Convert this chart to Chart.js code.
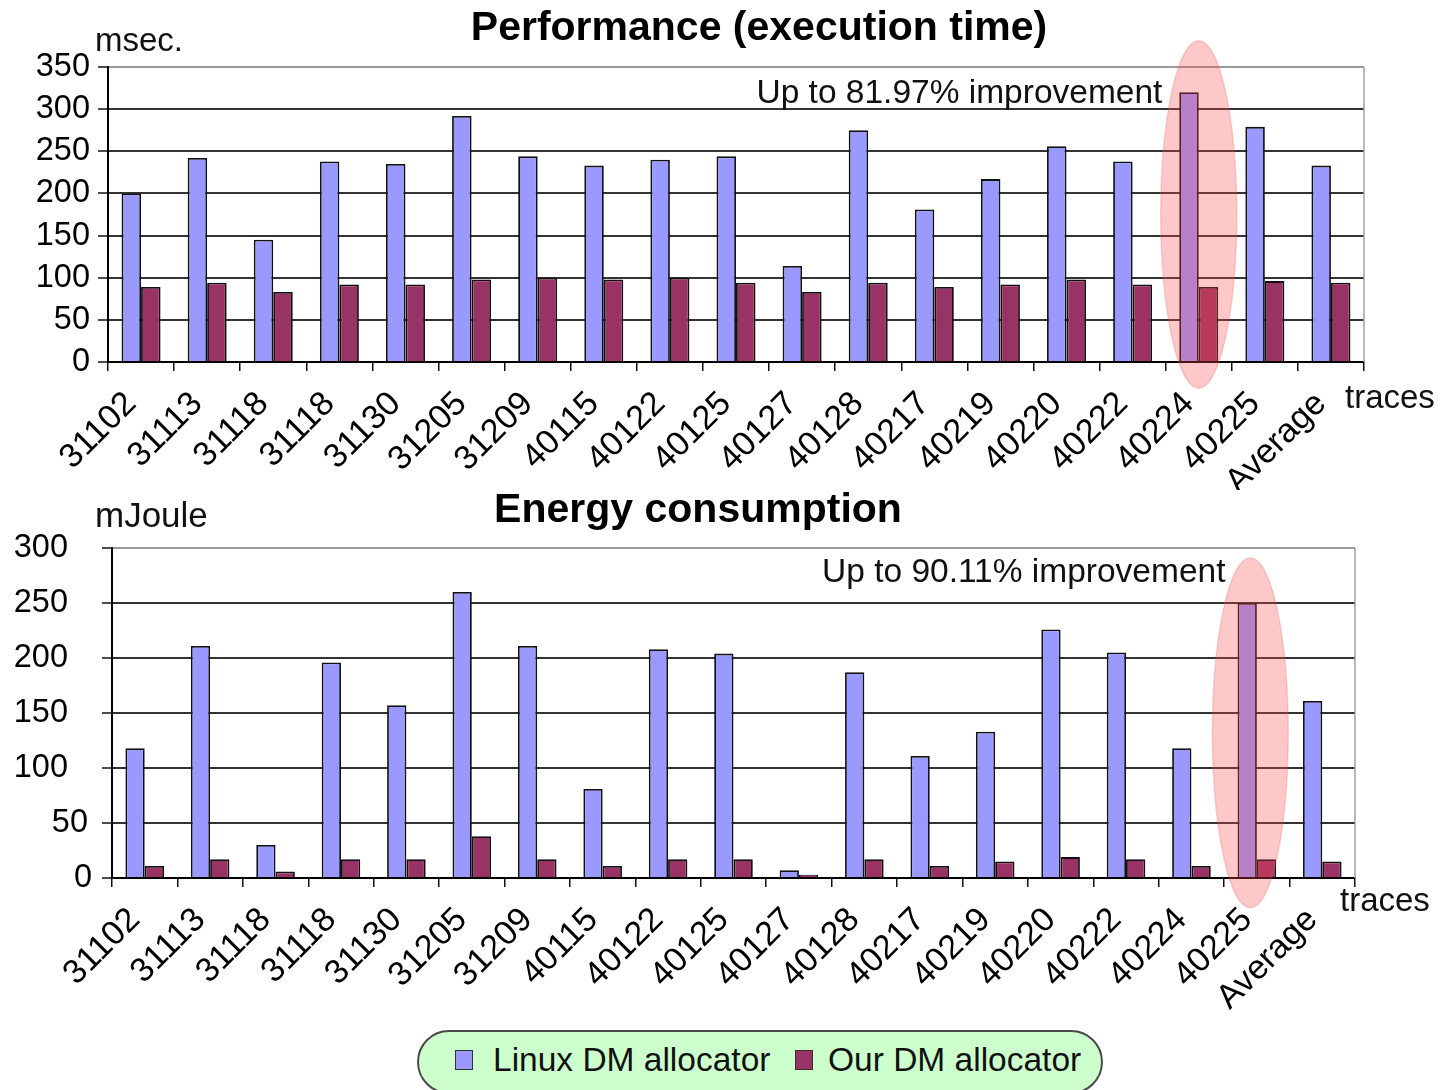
<!DOCTYPE html>
<html>
<head>
<meta charset="utf-8">
<script src="https://cdn.jsdelivr.net/npm/chart.js@4.4.1/dist/chart.umd.min.js"></script>
<style>
  html, body { margin: 0; padding: 0; background: #ffffff; }
  #wrap { position: relative; width: 1441px; height: 1090px; overflow: hidden; background: #ffffff; }
  #c1 { position: absolute; left: 0; top: 0; }
  #c2 { position: absolute; left: 0; top: 490px; }
  #legend { position: absolute; left: 417px; top: 1030px; width: 686px; height: 64px; box-sizing: border-box;
    border: 2px solid #4a4a4a; border-radius: 34px; background: #ccffcc;
    font-family: 'Liberation Sans', Arial, sans-serif; font-size: 33.5px; color: #111; }
  .mk { position: absolute; width: 16px; height: 18px; border: 1px solid #333; top: 18px; }
  .lt { position: absolute; top: 8px; line-height: 40px; white-space: nowrap; }
</style>
</head>
<body>
<div id="wrap">
  <canvas id="c1" width="1441" height="490"></canvas>
  <canvas id="c2" width="1441" height="530"></canvas>
  <div id="legend">
    <div class="mk" style="left:36px; background:#9999ff;"></div>
    <div class="lt" style="left:74px;">Linux DM allocator</div>
    <div class="mk" style="left:376px; background:#993366;"></div>
    <div class="lt" style="left:409px;">Our DM allocator</div>
  </div>
</div>
<script>
const traces = ['31102','31113','31118','31118','31130','31205','31209','40115','40122','40125','40127','40128','40217','40219','40220','40222','40224','40225','Average'];
const timeLinux = [200,242,145,238,235,292,244,233,240,244,114,275,181,217,256,238,320,279,233];
const timeOurs  = [89,94,83,92,92,98,100,98,100,94,83,94,89,92,98,92,89,96,94];
const energyLinux = [118,211,30,196,157,260,211,81,208,204,7,187,111,133,226,205,118,250,161];
const energyOurs  = [11,17,6,17,17,38,17,11,17,17,3,17,11,15,19,17,11,17,15];
const timeTicks = [0,50,100,150,200,250,300,350];
const energyTicks = [0,50,100,150,200,250,300];
const seriesNames = ['Linux DM allocator','Our DM allocator'];

const FONT = "'Liberation Sans', Arial, sans-serif";
const BLUE = '#9999ff';
const RED = '#993366';

function extrasPlugin(cfg) {
  return {
    id: 'extras',
    afterDraw(chart) {
      const ctx = chart.ctx;
      const xs = chart.scales.x, ys = chart.scales.y;
      const a = chart.chartArea;
      ctx.save();
      // right border of plot area
      ctx.strokeStyle = '#a0a0a0';
      ctx.lineWidth = 1.5;
      ctx.beginPath();
      ctx.moveTo(a.right, a.top);
      ctx.lineTo(a.right, a.bottom);
      ctx.stroke();
      // custom y tick labels (bottom chart)
      if (cfg.yLabelRight) {
        ctx.fillStyle = '#000';
        ctx.font = '32.5px ' + FONT;
        ctx.textAlign = 'right';
        ctx.textBaseline = 'middle';
        ys.ticks.forEach(t => {
          ctx.fillText(String(t.value), cfg.yLabelRight(t.value), ys.getPixelForValue(t.value));
        });
      }
      // highlight ellipse
      const cx = xs.getPixelForValue(cfg.ell.cat);
      const cy = ys.getPixelForValue(cfg.ell.val);
      const rx = Math.abs(xs.getPixelForValue(cfg.ell.cat + cfg.ell.halfCat) - cx);
      const ry = Math.abs(ys.getPixelForValue(cfg.ell.val + cfg.ell.halfVal) - cy);
      ctx.fillStyle = 'rgba(255,72,72,0.3)';
      ctx.strokeStyle = 'rgba(220,90,90,0.25)';
      ctx.lineWidth = 1.5;
      ctx.beginPath();
      ctx.ellipse(cx, cy, rx, ry, 0, 0, Math.PI * 2);
      ctx.fill();
      ctx.stroke();
      // annotation text
      ctx.fillStyle = '#111';
      ctx.font = '33.5px ' + FONT;
      ctx.textAlign = 'right';
      ctx.textBaseline = 'alphabetic';
      ctx.fillText(cfg.note, xs.getPixelForValue(cfg.noteCat), ys.getPixelForValue(cfg.noteVal));
      // unit label
      ctx.textAlign = 'left';
      ctx.font = cfg.unitSize + 'px ' + FONT;
      ctx.fillText(cfg.unit, cfg.unitX, cfg.unitY);
      // axis name
      ctx.font = '33px ' + FONT;
      ctx.fillText('traces', cfg.tracesX, cfg.tracesY);
      // title
      ctx.font = 'bold 41px ' + FONT;
      ctx.textAlign = 'center';
      ctx.fillStyle = '#000';
      ctx.fillText(cfg.title, cfg.titleX, cfg.titleY);
      ctx.restore();
    }
  };
}

function makeChart(id, linux, ours, ticks, cfg) {
  const maxV = ticks[ticks.length - 1];
  const step = ticks[1] - ticks[0];
  return new Chart(document.getElementById(id), {
    type: 'bar',
    data: {
      labels: traces,
      datasets: [
        { label: seriesNames[0], data: linux, backgroundColor: BLUE, borderColor: '#111', borderWidth: 1.8 },
        { label: seriesNames[1], data: ours, backgroundColor: RED, borderColor: '#111', borderWidth: 1.8 }
      ]
    },
    options: {
      responsive: false,
      animation: false,
      devicePixelRatio: 1,
      categoryPercentage: 0.59,
      barPercentage: 1.0,
      layout: { padding: { left: 0, top: cfg.padTop, right: cfg.padRight, bottom: 0 } },
      plugins: { legend: { display: false }, tooltip: { enabled: false }, title: { display: false } },
      scales: {
        x: {
          type: 'category',
          offset: true,
          grid: { offset: true, drawOnChartArea: false, drawTicks: true, tickLength: 9, color: '#111', lineWidth: 1.5 },
          border: { color: '#000', width: 2 },
          ticks: { autoSkip: false, maxRotation: 45, minRotation: 45, padding: cfg.xPad, labelOffset: -10, color: '#000',
                   font: { family: FONT, size: 34 } },
          afterFit(s) { s.height = cfg.xHeight; }
        },
        y: {
          min: 0, max: maxV,
          afterBuildTicks(s) { s.ticks = ticks.map(v => ({ value: v })); },
          grid: {
            color: c => (c.tick && c.tick.value === maxV) ? '#9a9a9a' : '#333',
            lineWidth: 2, drawTicks: true, tickLength: 10, tickColor: '#111', tickWidth: 1.5
          },
          border: { color: '#000', width: 2 },
          ticks: { display: !cfg.yLabelRight, stepSize: step, padding: cfg.yPad, color: '#000', font: { family: FONT, size: 32.5 } },
          afterFit(s) { s.width = cfg.yWidth; }
        }
      }
    },
    plugins: [extrasPlugin(cfg)]
  });
}

makeChart('c1', timeLinux, timeOurs, timeTicks, {
  padTop: 67, padRight: 77, xHeight: 128, yWidth: 108, xPad: 13, yPad: 8,
  ell: { cat: 16.0, val: 175, halfCat: 0.575, halfVal: 206 },
  note: 'Up to 81.97% improvement', noteCat: 15.45, noteVal: 307,
  unit: 'msec.', unitSize: 33, unitX: 95, unitY: 51,
  tracesX: 1345, tracesY: 408,
  title: 'Performance (execution time)', titleX: 759, titleY: 40
});

makeChart('c2', energyLinux, energyOurs, energyTicks, {
  padTop: 58, padRight: 86, xHeight: 142, yWidth: 112, xPad: 13, yPad: 8,
  yLabelRight: v => (v >= 100 ? 68 : (v >= 10 ? 88 : 92)),
  ell: { cat: 16.9, val: 132, halfCat: 0.58, halfVal: 159 },
  note: 'Up to 90.11% improvement', noteCat: 16.52, noteVal: 269,
  unit: 'mJoule', unitSize: 35, unitX: 95, unitY: 37,
  tracesX: 1340, tracesY: 421,
  title: 'Energy consumption', titleX: 698, titleY: 32
});
</script>
</body>
</html>
